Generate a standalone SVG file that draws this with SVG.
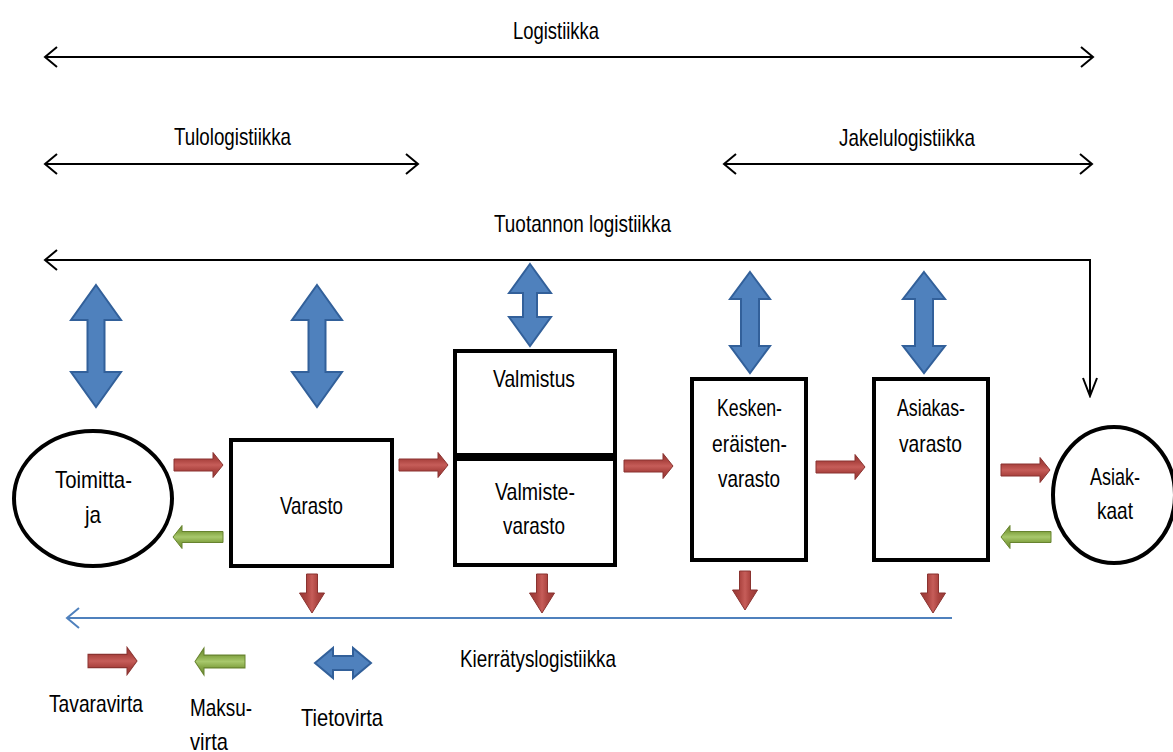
<svg xmlns="http://www.w3.org/2000/svg" xmlns:xlink="http://www.w3.org/1999/xlink" width="1173" height="752" viewBox="0 0 1173 752">
<style>
text{font-family:"Liberation Sans",Arial,sans-serif;font-size:24px;fill:#000}
.line{fill:none;stroke:#000;stroke-width:2}
.bline{fill:none;stroke:#4f81bd;stroke-width:2}
.box{fill:#fff;stroke:#000;stroke-width:4}
.red{fill:url(#gRedH);stroke:#8a3330;stroke-width:1}
.redv{fill:url(#gRedV);stroke:#8a3330;stroke-width:1}
.green{fill:url(#gGreen);stroke:#67832f;stroke-width:1}
.blue{fill:#4f81bd;stroke:#32609a;stroke-width:2}
</style>
<defs>
<linearGradient id="gRedH" x1="0" y1="0" x2="0" y2="1">
<stop offset="0" stop-color="#963835"/><stop offset="0.3" stop-color="#ad4541"/><stop offset="0.5" stop-color="#c65d59"/><stop offset="0.7" stop-color="#ad4541"/><stop offset="1" stop-color="#963835"/>
</linearGradient>
<linearGradient id="gRedV" x1="0" y1="0" x2="1" y2="0">
<stop offset="0" stop-color="#963835"/><stop offset="0.3" stop-color="#ad4541"/><stop offset="0.5" stop-color="#c65d59"/><stop offset="0.7" stop-color="#ad4541"/><stop offset="1" stop-color="#963835"/>
</linearGradient>
<linearGradient id="gGreen" x1="0" y1="0" x2="0" y2="1">
<stop offset="0" stop-color="#6f8d36"/><stop offset="0.3" stop-color="#87a847"/><stop offset="0.5" stop-color="#a8c86c"/><stop offset="0.7" stop-color="#87a847"/><stop offset="1" stop-color="#6f8d36"/>
</linearGradient>
<marker id="chev" viewBox="-14 -12 16 24" refX="0" refY="0" markerWidth="16" markerHeight="24" markerUnits="userSpaceOnUse" orient="auto-start-reverse">
<path d="M-12,-10 L0,0 L-12,10" fill="none" stroke="#000" stroke-width="2"/>
</marker>
<marker id="chevDown" viewBox="-9 -20 18 22" refX="0" refY="0" markerWidth="18" markerHeight="22" markerUnits="userSpaceOnUse" orient="0">
<path d="M-7,-18 L0,0 L7,-18" fill="none" stroke="#000" stroke-width="2"/>
</marker>
<marker id="chevBlue" viewBox="-14 -12 16 24" refX="0" refY="0" markerWidth="16" markerHeight="24" markerUnits="userSpaceOnUse" orient="auto-start-reverse">
<path d="M-12,-10 L0,0 L-12,10" fill="none" stroke="#4f81bd" stroke-width="2"/>
</marker>
<path id="redRight" d="M0,-6 H39 V-12.5 L49,0 L39,12.5 V6 H0 Z"/>
<path id="greenLeft" d="M0,0 L9,-11.5 V-5.5 H50 V5.5 H9 V11.5 Z"/>
<path id="redDown" d="M-5.5,0 H5.5 V19 H12.5 L0,39 L-12.5,19 H-5.5 Z"/>
</defs>
<rect width="1173" height="752" fill="#fff"/>

<g id="connectors">
<path class="line" d="M45,57 H1093" marker-start="url(#chev)" marker-end="url(#chev)"/>
<path class="line" d="M45,164 H418" marker-start="url(#chev)" marker-end="url(#chev)"/>
<path class="line" d="M724,164 H1092" marker-start="url(#chev)" marker-end="url(#chev)"/>
<path class="line" d="M45,260 H1090 V396" marker-start="url(#chev)" marker-end="url(#chevDown)"/>
<path class="bline" d="M952,618 H67" marker-end="url(#chevBlue)"/>
</g>

<g id="labels">
<text x="513" y="39" textLength="86" lengthAdjust="spacingAndGlyphs">Logistiikka</text>
<text x="174" y="145" textLength="117" lengthAdjust="spacingAndGlyphs">Tulologistiikka</text>
<text x="839" y="146" textLength="136" lengthAdjust="spacingAndGlyphs">Jakelulogistiikka</text>
<text x="494" y="232" textLength="177" lengthAdjust="spacingAndGlyphs">Tuotannon logistiikka</text>
<text x="460" y="667" textLength="156" lengthAdjust="spacingAndGlyphs">Kierrätyslogistiikka</text>
</g>

<g id="flows">
<path class="blue" d="M96,285 L121,320 H104.5 V372 H121 L96,407 L71,372 H87.5 V320 H71 Z"/>
<path class="blue" d="M317,285 L342,320 H325.5 V372 H342 L317,407 L292,372 H308.5 V320 H292 Z"/>
<path class="blue" d="M530,264 L551,293 H537 V317 H551 L530,346 L509,317 H523 V293 H509 Z"/>
<path class="blue" d="M750,272 L770,299 H759 V346 H770 L750,373 L730,346 H741 V299 H730 Z"/>
<path class="blue" d="M924,272 L945,299 H933 V346 H945 L924,373 L903,346 H915 V299 H903 Z"/>
<use href="#redRight" class="red" x="174" y="465"/>
<use href="#redRight" class="red" x="399" y="465"/>
<use href="#redRight" class="red" x="624" y="466"/>
<use href="#redRight" class="red" x="816" y="467"/>
<use href="#redRight" class="red" x="1001" y="470"/>
<use href="#greenLeft" class="green" x="173" y="537"/>
<use href="#greenLeft" class="green" x="1001" y="537"/>
<use href="#redDown" class="redv" x="312" y="574"/>
<use href="#redDown" class="redv" x="542" y="574"/>
<use href="#redDown" class="redv" x="745" y="571"/>
<use href="#redDown" class="redv" x="933" y="574"/>
</g>

<g id="node-toimittaja">
<ellipse class="box" cx="93" cy="498.5" rx="79" ry="67.5"/>
<text x="55" y="488" textLength="77" lengthAdjust="spacingAndGlyphs">Toimitta-</text>
<text x="85" y="523" textLength="16" lengthAdjust="spacingAndGlyphs">ja</text>
</g>
<g id="node-varasto">
<rect class="box" x="231" y="440" width="161" height="126"/>
<text x="280" y="514" textLength="63" lengthAdjust="spacingAndGlyphs">Varasto</text>
</g>
<g id="node-valmistus">
<rect class="box" x="455" y="351" width="160" height="104"/>
<text x="493" y="387" textLength="82" lengthAdjust="spacingAndGlyphs">Valmistus</text>
</g>
<g id="node-valmistevarasto">
<rect class="box" x="455" y="459" width="160" height="106"/>
<text x="495" y="500" textLength="80" lengthAdjust="spacingAndGlyphs">Valmiste-</text>
<text x="503" y="534" textLength="62" lengthAdjust="spacingAndGlyphs">varasto</text>
</g>
<g id="node-keskeneraisten">
<rect class="box" x="692" y="379" width="114" height="181"/>
<text x="717" y="416" textLength="65" lengthAdjust="spacingAndGlyphs">Kesken-</text>
<text x="712" y="452" textLength="75" lengthAdjust="spacingAndGlyphs">eräisten-</text>
<text x="718" y="487" textLength="62" lengthAdjust="spacingAndGlyphs">varasto</text>
</g>
<g id="node-asiakasvarasto">
<rect class="box" x="874" y="379" width="114" height="181"/>
<text x="897" y="416" textLength="68" lengthAdjust="spacingAndGlyphs">Asiakas-</text>
<text x="899" y="452" textLength="63" lengthAdjust="spacingAndGlyphs">varasto</text>
</g>
<g id="node-asiakkaat">
<ellipse class="box" cx="1114" cy="495" rx="61" ry="68"/>
<text x="1090" y="485" textLength="50" lengthAdjust="spacingAndGlyphs">Asiak-</text>
<text x="1097" y="519" textLength="36" lengthAdjust="spacingAndGlyphs">kaat</text>
</g>

<g id="legend">
<use href="#redRight" class="red" transform="translate(88,661) scale(1,1.1)"/>
<use href="#greenLeft" class="green" transform="translate(195,661.5) scale(1,1.17)"/>
<path class="blue" d="M315,663 L333,648 V656 H353 V648 L371,663 L353,678 V670 H333 V678 Z"/>
<text x="49" y="712" textLength="94" lengthAdjust="spacingAndGlyphs">Tavaravirta</text>
<text x="190" y="716" textLength="62" lengthAdjust="spacingAndGlyphs">Maksu-</text>
<text x="190" y="750" textLength="38" lengthAdjust="spacingAndGlyphs">virta</text>
<text x="301" y="726" textLength="82" lengthAdjust="spacingAndGlyphs">Tietovirta</text>
</g>
</svg>
